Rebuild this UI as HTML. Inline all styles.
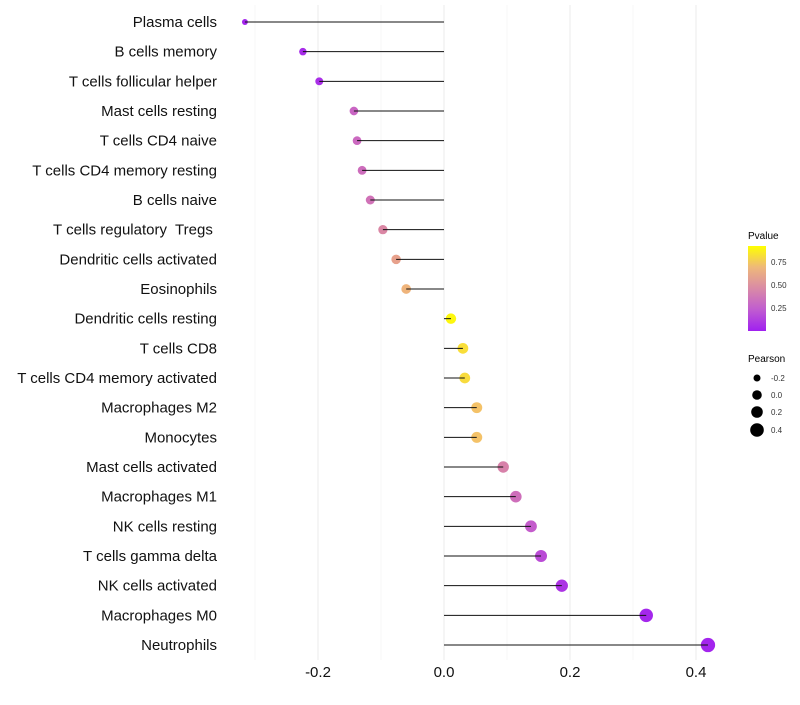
<!DOCTYPE html>
<html><head><meta charset="utf-8"><style>
body{margin:0;background:#fff;font-family:"Liberation Sans",sans-serif}
</style></head><body>
<svg id="chart" width="800" height="700" xmlns="http://www.w3.org/2000/svg" font-family="Liberation Sans, sans-serif">
<defs><linearGradient id="pg" x1="0" y1="1" x2="0" y2="0">
<stop offset="0" stop-color="#A020F0"/><stop offset="0.25" stop-color="#C05CD0"/><stop offset="0.5" stop-color="#D98AA6"/><stop offset="0.75" stop-color="#EEB87A"/><stop offset="1" stop-color="#FFFF00"/></linearGradient></defs>
<g id="grid"></g><g id="marks"></g><g id="labels"></g>
<g>
<text x="748" y="239" font-size="10">Pvalue</text>
<rect x="748" y="246" width="18" height="85" fill="url(#pg)"/>
<text x="771" y="265" font-size="8" fill="#333">0.75</text>
<text x="771" y="288" font-size="8" fill="#333">0.50</text>
<text x="771" y="311" font-size="8" fill="#333">0.25</text>
<text x="748" y="362" font-size="10">Pearson</text>
<circle cx="757" cy="378" r="3.5"/><text x="771" y="381" font-size="8" fill="#333">-0.2</text>
<circle cx="757" cy="395" r="4.8"/><text x="771" y="398" font-size="8" fill="#333">0.0</text>
<circle cx="757" cy="412" r="5.8"/><text x="771" y="415" font-size="8" fill="#333">0.2</text>
<circle cx="757" cy="430" r="6.8"/><text x="771" y="433" font-size="8" fill="#333">0.4</text>
</g>
</svg>
<script>
const categories=["Plasma cells","B cells memory","T cells follicular helper","Mast cells resting","T cells CD4 naive","T cells CD4 memory resting","B cells naive","T cells regulatory  Tregs ","Dendritic cells activated","Eosinophils","Dendritic cells resting","T cells CD8","T cells CD4 memory activated","Macrophages M2","Monocytes","Mast cells activated","Macrophages M1","NK cells resting","T cells gamma delta","NK cells activated","Macrophages M0","Neutrophils"];
const pearson=[-0.316,-0.224,-0.198,-0.143,-0.138,-0.130,-0.117,-0.097,-0.076,-0.060,0.011,0.030,0.033,0.052,0.052,0.094,0.114,0.138,0.154,0.187,0.321,0.419];
const pvalue=[0.02,0.05,0.06,0.30,0.32,0.34,0.37,0.48,0.62,0.72,0.97,0.88,0.87,0.78,0.78,0.45,0.35,0.25,0.18,0.08,0.03,0.02];
const xTicks=[-0.2,0,0.2,0.4];
const xTickLabels=["-0.2","0.0","0.2","0.4"];
const minorTicks=[-0.3,-0.1,0.1,0.3];
const NS="http://www.w3.org/2000/svg";
const x=v=>444+v*630;
const y=i=>22+i*29.667;
const stops=[[0,[160,32,240]],[0.25,[196,92,204]],[0.5,[220,138,160]],[0.75,[242,186,118]],[1,[255,255,0]]];
function col(p){for(let k=1;k<stops.length;k++){if(p<=stops[k][0]){const a=stops[k-1],b=stops[k],t=(p-a[0])/(b[0]-a[0]);return "rgb("+a[1].map((c,j)=>Math.round(c+(b[1][j]-c)*t)).join(",")+")";}}return "rgb(255,255,0)";}
const rad=v=>Math.sqrt(Math.max(3,27+58*v));
function mk(t,a,p){const e=document.createElementNS(NS,t);for(const k in a)e.setAttribute(k,a[k]);p.appendChild(e);return e;}
const g=document.getElementById("grid"),m=document.getElementById("marks"),L=document.getElementById("labels");
minorTicks.forEach(v=>{const l=mk("line",{x1:x(v),x2:x(v),y1:5,y2:660,stroke:"#f2f2f2","stroke-width":0.6},g);

});
xTicks.forEach((v,i)=>{const l=mk("line",{x1:x(v),x2:x(v),y1:5,y2:660,stroke:"#ebebeb","stroke-width":1},g);


const t=mk("text",{x:x(v),y:677,"font-size":15,"text-anchor":"middle",fill:"#111"},L);t.textContent=xTickLabels[i];

});
categories.forEach((c,i)=>{
const cy=y(i);
const pt=mk("circle",{cx:x(pearson[i]),cy:cy,r:rad(pearson[i]),fill:col(pvalue[i])},m);


const ln=mk("line",{x1:x(0),x2:x(pearson[i]),y1:cy,y2:cy,stroke:"#111","stroke-width":1},m);


const t=mk("text",{x:217,y:cy+5,"font-size":15,"text-anchor":"end",fill:"#111",style:"white-space:pre"},L);t.textContent=c;


});
</script>
</body></html>
